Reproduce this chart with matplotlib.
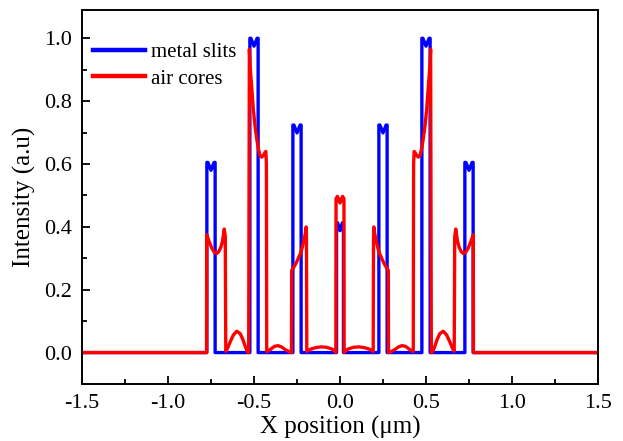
import matplotlib
matplotlib.use("Agg")
import matplotlib.pyplot as plt
from matplotlib.ticker import MultipleLocator

# ---- data ----
slit_centers = [-0.75, -0.5, -0.25, 0.0, 0.25, 0.5, 0.75]
slit_heights = [0.605, 1.0, 0.724, 0.413, 0.724, 1.0, 0.605]
slit_widths = [0.048, 0.048, 0.048, 0.040, 0.048, 0.048, 0.048]
slit_dip = 0.025

air_x = [-1.5, -0.776, -0.775, -0.76, -0.745, -0.73, -0.717, -0.705, -0.692, -0.682, -0.673, -0.667, -0.664,
         -0.655, -0.64, -0.62, -0.60, -0.58, -0.565, -0.55, -0.54, -0.533,
         -0.531, -0.527, -0.523, -0.513, -0.504, -0.494, -0.484, -0.475, -0.465, -0.455, -0.446, -0.437, -0.431, -0.428, -0.426,
         -0.42, -0.40, -0.38, -0.36, -0.34, -0.32, -0.30, -0.285, -0.282,
         -0.281, -0.27, -0.255, -0.24, -0.23, -0.22, -0.21, -0.203, -0.197, -0.195, -0.193,
         -0.19, -0.17, -0.14, -0.11, -0.08, -0.05, -0.03, -0.025,
         -0.024, -0.023, -0.015, -0.008, 0.0, 0.008, 0.015, 0.023, 0.024,
         0.025, 0.03, 0.05, 0.08, 0.11, 0.14, 0.17, 0.19,
         0.193, 0.195, 0.197, 0.203, 0.21, 0.22, 0.23, 0.24, 0.255, 0.27, 0.281,
         0.282, 0.285, 0.30, 0.32, 0.34, 0.36, 0.38, 0.40, 0.42,
         0.426, 0.428, 0.431, 0.437, 0.446, 0.455, 0.465, 0.475, 0.484, 0.494, 0.504, 0.513, 0.523, 0.527, 0.531,
         0.533, 0.54, 0.55, 0.565, 0.58, 0.60, 0.62, 0.64, 0.655,
         0.664, 0.667, 0.673, 0.682, 0.692, 0.705, 0.717, 0.73, 0.745, 0.76, 0.775, 0.776, 1.5]
air_y = [0.0, 0.0, 0.375, 0.352, 0.332, 0.319, 0.315, 0.321, 0.336, 0.358, 0.393, 0.37, 0.004,
         0.012, 0.032, 0.056, 0.068, 0.060, 0.042, 0.018, 0.005, 0.0,
         0.0, 0.965, 0.915, 0.84, 0.775, 0.72, 0.68, 0.65, 0.627, 0.622, 0.627, 0.636, 0.64, 0.6, 0.004,
         0.004, 0.012, 0.02, 0.022, 0.018, 0.01, 0.004, 0.001, 0.0,
         0.262, 0.27, 0.285, 0.303, 0.315, 0.333, 0.358, 0.375, 0.40, 0.37, 0.004,
         0.004, 0.011, 0.016, 0.018, 0.017, 0.012, 0.005, 0.001,
         0.0, 0.49, 0.497, 0.488, 0.476, 0.488, 0.497, 0.49, 0.0,
         0.001, 0.005, 0.012, 0.017, 0.018, 0.016, 0.011, 0.004,
         0.004, 0.37, 0.40, 0.375, 0.358, 0.333, 0.315, 0.303, 0.285, 0.27, 0.262,
         0.0, 0.001, 0.004, 0.01, 0.018, 0.022, 0.02, 0.012, 0.004,
         0.004, 0.6, 0.64, 0.636, 0.627, 0.622, 0.627, 0.65, 0.68, 0.72, 0.775, 0.84, 0.915, 0.965, 0.0,
         0.0, 0.005, 0.018, 0.042, 0.060, 0.068, 0.056, 0.032, 0.012,
         0.004, 0.37, 0.393, 0.358, 0.336, 0.321, 0.315, 0.319, 0.332, 0.352, 0.375, 0.0, 0.0]

x_ticks = [-1.5, -1.0, -0.5, 0.0, 0.5, 1.0, 1.5]
y_ticks = [0.0, 0.2, 0.4, 0.6, 0.8, 1.0]

# ---- build metal-slit step profile from slit parameters ----
metal_x = [-1.5]
metal_y = [0.0]
for c, h, w in zip(slit_centers, slit_heights, slit_widths):
    a, b = c - w / 2, c + w / 2
    metal_x += [a, a, a + 0.006, c, b - 0.006, b, b]
    metal_y += [0.0, h, h, h - slit_dip, h, h, 0.0]
metal_x.append(1.5)
metal_y.append(0.0)

plt.rcParams['font.family'] = ['Liberation Serif', 'DejaVu Serif']

fig = plt.figure(figsize=(6.23, 4.41), dpi=100)
ax = fig.add_axes([82 / 623, 1 - 384 / 441, (598 - 82) / 623, (384 - 10) / 441])

ax.plot(metal_x, metal_y, color='#0000ff', lw=2.4, label='metal slits', solid_joinstyle='round')
ax.plot(air_x, air_y, color='#ff0000', lw=2.4, label='air cores', solid_joinstyle='round')

ax.set_xlim(-1.5, 1.5)
ax.set_ylim(-0.1, 1.09)
ax.set_xticks(x_ticks)
ax.set_xticklabels([f"{t:.1f}" for t in x_ticks])
ax.set_yticks(y_ticks)
ax.set_yticklabels([f"{t:.1f}" for t in y_ticks])
ax.xaxis.set_minor_locator(MultipleLocator(0.25))
ax.yaxis.set_minor_locator(MultipleLocator(0.1))
ax.tick_params(which='both', direction='in', top=False, right=False, labelsize=16, width=1.3)
ax.tick_params(which='major', length=6)
ax.tick_params(which='minor', length=3.5)
ax.tick_params(axis='x', pad=7)
ax.tick_params(axis='y', pad=7)
for s in ax.spines.values():
    s.set_linewidth(1.4)

ax.set_xlabel('X position (μm)', fontsize=18, labelpad=2)
ax.set_ylabel('Intensity (a.u)', fontsize=18, labelpad=6)

leg = ax.legend(loc='upper left', bbox_to_anchor=(0.005, 0.936), frameon=False, fontsize=15,
                handlelength=2.5, handletextpad=0.3, labelspacing=0.35, borderaxespad=0)
for line in leg.get_lines():
    line.set_linewidth(3.2)

fig.savefig('out.png', dpi=100)
